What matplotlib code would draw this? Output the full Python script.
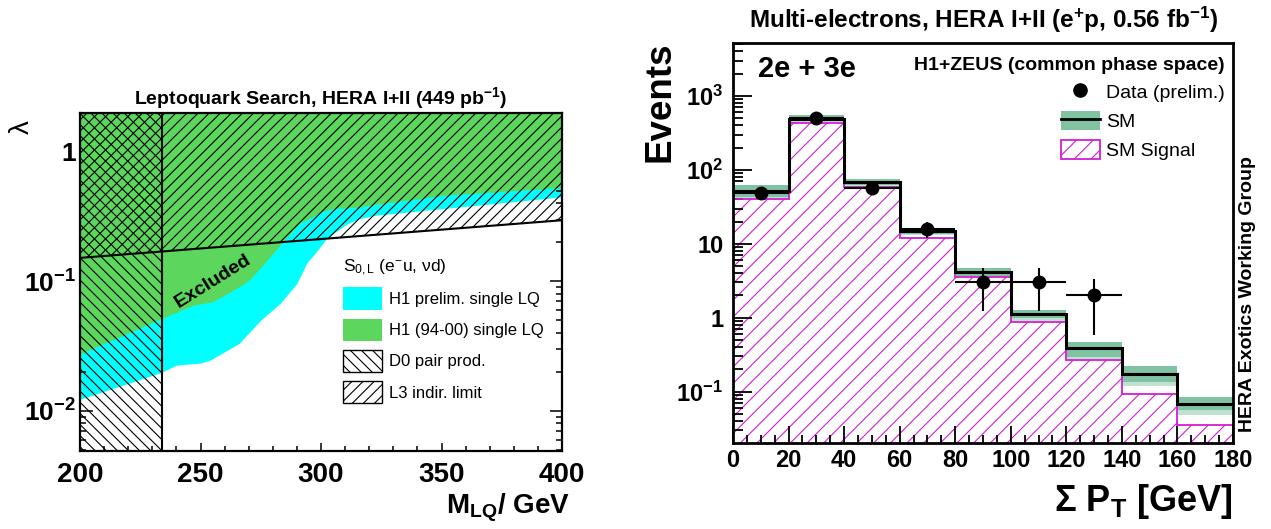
import numpy as np
import matplotlib
matplotlib.use("Agg")
import matplotlib.pyplot as plt
from matplotlib.patches import Patch
from matplotlib.lines import Line2D
from matplotlib.ticker import FixedLocator, MultipleLocator, LogLocator, NullFormatter

# ---------------- data: left panel (leptoquark limits) ----------------
cyan_mass = [200, 234, 240, 250, 254, 266, 275, 283, 290, 294, 298, 302, 305, 311, 316, 323, 351, 400]
cyan_lambda = [0.0123, 0.0199, 0.0226, 0.0234, 0.0247, 0.0332, 0.0503, 0.0676, 0.0965, 0.138,
               0.169, 0.211, 0.234, 0.28, 0.306, 0.325, 0.366, 0.45]
green_mass = [200, 234, 247, 255, 266, 270, 275, 280, 284, 291, 300, 305, 316, 320, 351, 400]
green_lambda = [0.0276, 0.0518, 0.0656, 0.0696, 0.0908, 0.102, 0.128, 0.164, 0.202, 0.28,
                0.344, 0.366, 0.376, 0.388, 0.463, 0.532]
d0_limit = 234
l3_mass = [200, 400]
l3_lambda = [0.152, 0.297]
left_xticks = [200, 250, 300, 350, 400]
left_yticks = [0.01, 0.1, 1]
left_yticklabels = ["10$^{-2}$", "10$^{-1}$", "1"]
left_legend_labels = ["H1 prelim. single LQ", "H1 (94-00) single LQ", "D0 pair prod.", "L3 indir. limit"]

# ---------------- data: right panel (multi-electrons) ----------------
edges = [0, 20, 40, 60, 80, 100, 120, 140, 160, 180]
sm = [51, 494, 68, 14.8, 4.2, 1.12, 0.385, 0.175, 0.068]
sm_up = [61.5, 548, 75.9, 16.5, 4.67, 1.29, 0.465, 0.22, 0.084]
sm_down = [43, 454, 62, 13.4, 3.70, 0.99, 0.296, 0.137, 0.057]
sm_down_outer = [42, 450, 61, 13.2, 3.6, 0.91, 0.275, 0.121, 0.049]
signal = [40.3, 435, 58.3, 12.0, 3.58, 0.875, 0.266, 0.093, 0.0356]
data_x = [10, 30, 50, 70, 90, 110, 130]
data_y = [49, 500, 57, 16, 3, 3, 2]
data_err_lo = [7, 22, 7.5, 4, 1.75, 1.75, 1.41]
data_err_hi = [7, 22, 7.5, 3.5, 1.67, 1.67, 1.33]
right_yticks = [0.1, 1, 10, 100, 1000]
right_yticklabels = ["10$^{-1}$", "1", "10", "10$^{2}$", "10$^{3}$"]

# ---------------- style ----------------
plt.rcParams.update({
    "font.family": ["Liberation Sans", "DejaVu Sans"],
    "mathtext.fontset": "custom",
    "mathtext.rm": "Liberation Sans",
    "mathtext.it": "Liberation Sans:italic",
    "mathtext.bf": "Liberation Sans:bold",
    "mathtext.default": "regular",
    "hatch.linewidth": 0.8,
})
CYAN = "#00ffff"
GREEN = "#5cd65c"
BAND = "#80c2a2"
BAND_LIGHT = "#bfe2d0"
MAG = "#d21ed2"

W, H = 1271, 529
fig = plt.figure(figsize=(W / 100, H / 100), dpi=100)


def fx(x):
    return x / W


def fy(y):
    return 1 - y / H


# ================= left panel =================
axL = fig.add_axes([fx(80), fy(451), 482 / W, 338 / H])
axL.set_yscale("log")
axL.set_xlim(200, 400)
axL.set_ylim(0.0049, 2.0)
axL.fill_between(cyan_mass, cyan_lambda, 10, color=CYAN, lw=0, zorder=1)
axL.fill_between(green_mass, green_lambda, 10, color=GREEN, lw=0, zorder=2)
axL.fill_between([200, d0_limit], 1e-4, 10, facecolor="none", edgecolor="k",
                 hatch="\\\\\\", lw=0, zorder=3)
axL.fill_between(l3_mass, l3_lambda, 10, facecolor="none", edgecolor="k",
                 hatch="///", lw=0, zorder=3)
axL.plot(l3_mass, l3_lambda, color="k", lw=1.5, zorder=4)
axL.plot([d0_limit, d0_limit], [1e-4, 10], color="k", lw=1.5, zorder=4)

axL.xaxis.set_major_locator(FixedLocator(left_xticks))
axL.xaxis.set_minor_locator(MultipleLocator(10))
axL.yaxis.set_major_locator(FixedLocator(left_yticks))
axL.set_yticklabels(left_yticklabels)
axL.yaxis.set_minor_locator(LogLocator(base=10, subs=np.arange(2, 10)))
axL.yaxis.set_minor_formatter(NullFormatter())
axL.set_xticklabels([str(v) for v in left_xticks])
axL.tick_params(axis="both", which="both", direction="in", top=True, right=True, width=1.1)
axL.tick_params(axis="x", which="major", length=6, pad=8, labelsize=20)
axL.tick_params(axis="x", which="minor", length=3.5)
axL.tick_params(axis="y", which="major", length=9, pad=3, labelsize=19)
axL.tick_params(axis="y", which="minor", length=4)
for lab in axL.get_xticklabels() + axL.get_yticklabels():
    lab.set_fontweight("bold")
for sp in axL.spines.values():
    sp.set_linewidth(1.6)
    sp.set_zorder(6)

fig.text(fx(213), fy(281), "Excluded", rotation=32, ha="center", va="center",
         fontsize=14, fontweight="bold")
fig.text(fx(321), fy(98), "Leptoquark Search, HERA I+II (449 pb$^{-1}$)",
         ha="center", va="center", fontsize=14, fontweight="bold")
fig.text(fx(22), fy(127), "λ", rotation=90, ha="center", va="center", fontsize=20)
fig.text(fx(570), fy(513), "M$_{LQ}$/ GeV", ha="right", va="baseline",
         fontsize=20, fontweight="bold")

handlesL = [
    Patch(facecolor=CYAN, edgecolor="none"),
    Patch(facecolor=GREEN, edgecolor="none"),
    Patch(facecolor="white", edgecolor="k", hatch="\\\\\\", lw=1),
    Patch(facecolor="white", edgecolor="k", hatch="///", lw=1),
]
legL = axL.legend(handlesL, left_legend_labels, title="S$_{0,L}$ (e$^{-}$u, νd)",
                  loc="upper left", bbox_to_anchor=(fx(343), fy(258)),
                  bbox_transform=fig.transFigure, frameon=False, fontsize=12,
                  title_fontsize=12.5, handlelength=2.34, handleheight=1.68,
                  labelspacing=0.54, handletextpad=0.42, borderpad=0,
                  borderaxespad=0, alignment="left")
legL.set_zorder(7)

# ================= right panel =================
axR = fig.add_axes([fx(733), fy(443), 500 / W, 400 / H])
axR.set_yscale("log")
axR.set_xlim(0, 180)
axR.set_ylim(0.0202, 5200)
axR.stairs(signal, edges, baseline=1e-3, fill=True, facecolor="none", edgecolor=MAG,
           hatch="//", lw=0, zorder=1)
axR.stairs(sm_up, edges, baseline=sm_down, fill=True, color=BAND, lw=0, zorder=2)
axR.stairs(sm_down, edges, baseline=sm_down_outer, fill=True, color=BAND_LIGHT, lw=0, zorder=2)
axR.stairs(signal, edges, baseline=None, color=MAG, lw=1.3, zorder=3)
axR.stairs(sm, edges, baseline=None, color="k", lw=2.2, zorder=4)
axR.errorbar(data_x, data_y, xerr=10, yerr=[data_err_lo, data_err_hi], fmt="o", color="k",
             ms=9, elinewidth=1.5, capsize=0, zorder=5)

axR.xaxis.set_major_locator(MultipleLocator(20))
axR.xaxis.set_minor_locator(MultipleLocator(5))
axR.yaxis.set_major_locator(FixedLocator(right_yticks))
axR.set_yticklabels(right_yticklabels)
axR.yaxis.set_minor_locator(LogLocator(base=10, subs=np.arange(2, 10)))
axR.yaxis.set_minor_formatter(NullFormatter())
axR.tick_params(axis="both", which="both", direction="in", top=False, right=False, width=1.3)
axR.tick_params(axis="x", which="major", length=12, pad=4, labelsize=17)
axR.tick_params(axis="x", which="minor", length=6)
axR.tick_params(axis="y", which="major", length=13.5, pad=7, labelsize=17)
axR.tick_params(axis="y", which="minor", length=7)
for lab in axR.get_xticklabels() + axR.get_yticklabels():
    lab.set_fontweight("bold")
for sp in axR.spines.values():
    sp.set_linewidth(2)
    sp.set_zorder(6)

fig.text(fx(984), fy(20), "Multi-electrons, HERA I+II (e$^{+}$p, 0.56 fb$^{-1}$)",
         ha="center", va="center", fontsize=17.5, fontweight="bold")
fig.text(fx(660), fy(42), "Events", rotation=90, ha="center", va="top",
         fontsize=26.5, fontweight="bold")
fig.text(fx(1233), fy(511), "Σ P$_T$ [GeV]", ha="right", va="baseline",
         fontsize=26, fontweight="bold")
fig.text(fx(758), fy(69), "2e + 3e", ha="left", va="center", fontsize=21, fontweight="bold")
fig.text(fx(1225), fy(65), "H1+ZEUS (common phase space)", ha="right", va="center",
         fontsize=14, fontweight="bold")
fig.text(fx(1247), fy(432), "HERA Exotics Working Group", rotation=90, ha="center",
         va="bottom", fontsize=14, fontweight="bold")

handlesR = [
    Line2D([], [], marker="o", ls="none", color="k", ms=9.5),
    (Patch(facecolor=BAND, edgecolor="none"), Line2D([], [], color="k", lw=2)),
    Patch(facecolor="white", edgecolor=MAG, hatch="//", lw=1.3),
]
legR = axR.legend(handlesR, ["Data (prelim.)", "SM", "SM Signal"], loc="upper left",
                  bbox_to_anchor=(fx(1061), fy(82)), bbox_transform=fig.transFigure,
                  frameon=False, fontsize=14, handlelength=2.0, handleheight=1.13,
                  labelspacing=0.46, handletextpad=0.31, borderpad=0, borderaxespad=0)
legR.set_zorder(7)

fig.savefig("out.png", dpi=100)
